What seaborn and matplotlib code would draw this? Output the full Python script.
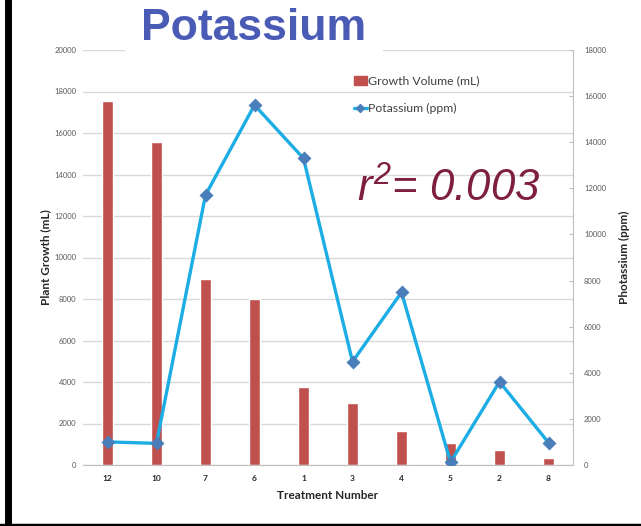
import numpy as np
import pandas as pd
import seaborn as sns
import matplotlib
matplotlib.use("Agg")
import matplotlib.pyplot as plt
from matplotlib.patches import Patch
from matplotlib.lines import Line2D

# values
treatments = ["12", "10", "7", "6", "1", "3", "4", "5", "2", "8"]
growth_ml = [17550, 15580, 8950, 8000, 3780, 2970, 1660, 1080, 710, 320]
potassium_ppm = [1000, 940, 11710, 15610, 13300, 4480, 7490, 120, 3610, 970]

df = pd.DataFrame({"treatment": treatments, "growth": growth_ml, "potassium": potassium_ppm})

sns.set_style("white")
plt.rcParams["font.family"] = ["Lato", "DejaVu Sans"]
plt.rcParams["mathtext.fontset"] = "custom"
plt.rcParams["mathtext.it"] = "Liberation Sans:italic"
plt.rcParams["mathtext.rm"] = "Liberation Sans:italic"

bar_red = "#C0504D"
line_blue = "#1CADE4"
marker_blue = "#4A7EBB"
grid_grey = "#D9D9D9"
tick_grey = "#595959"

fig = plt.figure(figsize=(6.41, 5.26), dpi=100)
ax = fig.add_axes([83 / 641, 1 - 465 / 526, 490 / 641, 415 / 526])
ax2 = ax.twinx()

sns.barplot(data=df, x="treatment", y="growth", order=treatments, color=bar_red,
            saturation=1, width=0.24, ax=ax)
sns.pointplot(data=df, x="treatment", y="potassium", order=treatments, color=line_blue,
              markers="D", linestyles="-", ax=ax2)
for ln in ax2.lines:
    ln.set_linewidth(2.4)
    ln.set_markersize(5.5)
    ln.set_markerfacecolor(marker_blue)
    ln.set_markeredgecolor(marker_blue)

ax.set_xlim(-0.5, len(treatments) - 0.5)
ax.set_ylim(0, 20000)
ax.set_yticks(range(0, 20001, 2000))
ax2.set_ylim(0, 18000)
ax2.set_yticks(range(0, 18001, 2000))

ax.yaxis.grid(True, color=grid_grey, linewidth=1)
ax.set_axisbelow(True)
for s in ["left", "top", "right"]:
    ax.spines[s].set_visible(False)
ax.spines["bottom"].set_color("#BFBFBF")
for s in ["left", "top", "bottom"]:
    ax2.spines[s].set_visible(False)
ax2.spines["right"].set_color("#BFBFBF")

ax.tick_params(axis="y", length=0, pad=5, labelsize=5.5, labelcolor=tick_grey)
ax.tick_params(axis="x", length=0, pad=7)
for lab in ax.get_xticklabels():
    lab.set_fontsize(6)
    lab.set_fontweight("bold")
    lab.set_color("#262626")
ax2.tick_params(axis="y", direction="in", length=3, color="#BFBFBF", pad=8,
                labelsize=5.5, labelcolor=tick_grey)

ax.set_xlabel("Treatment Number", fontsize=8.5, fontweight="bold", color="#262626", labelpad=6)
ax.set_ylabel("Plant Growth (mL)", fontsize=8.5, fontweight="bold", color="#262626", labelpad=2)
ax2.set_ylabel("Photassium (ppm)", fontsize=8.5, fontweight="bold", color="#262626", labelpad=9)

handles = [Patch(color=bar_red),
           Line2D([0], [0], color=line_blue, lw=2.4, marker="D", markersize=4,
                  markerfacecolor=marker_blue, markeredgecolor=marker_blue)]
ax2.legend(handles, ["Growth Volume (mL)", "Potassium (ppm)"], loc="upper left",
           bbox_to_anchor=(0.53, 0.965), frameon=False, fontsize=8.8, labelspacing=1.35,
           handlelength=1.1, handletextpad=0.1, labelcolor="#404040")

fig.text(254 / 641, 1 - 28 / 526, "Potassium", ha="center", va="center", fontsize=32,
         fontweight="bold", color="#4A5BB5", family="Liberation Sans",
         bbox=dict(facecolor="white", edgecolor="none", pad=12))

ax2.text(0.56, 0.665, r"$r^{2}$= 0.003", transform=ax2.transAxes, fontsize=31.5,
         style="italic", color="#7F1F3F", family="Liberation Sans", va="center")

fig.add_artist(plt.Line2D([0.013, 0.013], [0, 1], color="black", lw=5, transform=fig.transFigure))
fig.add_artist(plt.Line2D([0, 1], [0.002, 0.002], color="black", lw=2.5, transform=fig.transFigure))

fig.savefig("out.png", dpi=100)
